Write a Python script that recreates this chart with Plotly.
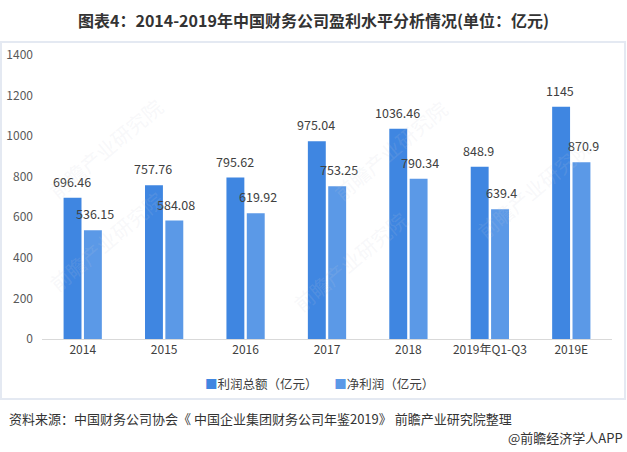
import plotly.graph_objects as go

categories = ['2014', '2015', '2016', '2017', '2018', '2019年Q1-Q3', '2019E']
total_profit = [696.46, 757.76, 795.62, 975.04, 1036.46, 848.9, 1145]
net_profit = [536.15, 584.08, 619.92, 753.25, 790.34, 639.4, 870.9]
total_labels = ['696.46', '757.76', '795.62', '975.04', '1036.46', '848.9', '1145']
net_labels = ['536.15', '584.08', '619.92', '753.25', '790.34', '639.4', '870.9']
series_names = ['利润总额（亿元）', '净利润（亿元）']
y_ticks = [0, 200, 400, 600, 800, 1000, 1200, 1400]

W, H = 627, 452
ML, MR, MT, MB = 42, 15, 55, 113
PW = W - ML - MR
PH = H - MT - MB


def px_x(x):
    return (x - ML) / PW


def px_y(y):
    return (H - MB - y) / PH


FONT = 'Noto Sans CJK SC'
DARK = '#3f86e1'
LIGHT = '#5b99e7'

fig = go.Figure()
fig.add_trace(go.Bar(x=categories, y=total_profit, name=series_names[0], showlegend=False,
                     marker=dict(color=DARK, line=dict(width=0))))
fig.add_trace(go.Bar(x=categories, y=net_profit, name=series_names[1], showlegend=False,
                     marker=dict(color=LIGHT, line=dict(width=0))))

# value labels above bars (category axis -> use serial index)
for i, (v, t) in enumerate(zip(total_profit, total_labels)):
    fig.add_annotation(x=i, y=v, text=t, showarrow=False, xshift=-11, yshift=5,
                       yanchor='bottom', font=dict(family=FONT, size=12.5, color='#404040'))
for i, (v, t) in enumerate(zip(net_profit, net_labels)):
    fig.add_annotation(x=i, y=v, text=t, showarrow=False, xshift=12, yshift=5,
                       yanchor='bottom', font=dict(family=FONT, size=12.5, color='#404040'))

# faint watermarks
for wx, wy in [(40, 90), (390, 150), (40, 300), (350, 320), (600, 130)]:
    fig.add_annotation(xref='paper', yref='paper', x=px_x(wx), y=px_y(wy),
                       text='前瞻产业研究院', showarrow=False, textangle=-40,
                       font=dict(family=FONT, size=20, color='rgba(200,205,215,0.15)'))

# legend drawn as text with coloured squares
fig.add_annotation(xref='paper', yref='paper', x=px_x(203), y=px_y(383), xanchor='left',
                   yanchor='middle', showarrow=False,
                   text=(f'<span style="color:{DARK}">■</span>{series_names[0]}'
                         f'      <span style="color:{LIGHT}">■</span>{series_names[1]}'),
                   font=dict(family=FONT, size=12.5, color='#404040'))

fig.add_annotation(xref='paper', yref='paper', x=px_x(W / 2), y=px_y(20), yanchor='middle',
                   text='<b>图表4：2014-2019年中国财务公司盈利水平分析情况(单位：亿元)</b>',
                   showarrow=False, font=dict(family=FONT, size=16, color='#333333'))
fig.add_annotation(xref='paper', yref='paper', x=px_x(7), y=px_y(418), xanchor='left',
                   yanchor='middle',
                   text='资料来源：中国财务公司协会《 中国企业集团财务公司年鉴2019》 前瞻产业研究院整理',
                   showarrow=False, font=dict(family=FONT, size=13, color='#333333'))
fig.add_annotation(xref='paper', yref='paper', x=px_x(625), y=px_y(438), xanchor='right',
                   yanchor='middle', text='@前瞻经济学人APP',
                   showarrow=False, font=dict(family=FONT, size=13, color='#333333'))

# frame around chart
fig.add_shape(type='rect', xref='paper', yref='paper',
              x0=px_x(1), x1=px_x(625), y0=px_y(399), y1=px_y(42),
              line=dict(color='#e4e9f2', width=2), layer='below')

fig.update_layout(
    width=W, height=H,
    margin=dict(l=ML, r=MR, t=MT, b=MB),
    paper_bgcolor='white', plot_bgcolor='white',
    barmode='group', bargap=0.5, bargroupgap=0.12,
    font=dict(family=FONT),
)
fig.update_xaxes(type='category', showline=True, linecolor='#d9d9d9', linewidth=1, ticks='',
                 automargin=False,
                 tickfont=dict(family=FONT, size=12, color='#404040'), showgrid=False)
fig.update_yaxes(range=[0, 1400], tickvals=y_ticks, showgrid=False, zeroline=False,
                 showline=False, ticklabelstandoff=8, automargin=False,
                 tickfont=dict(family=FONT, size=12, color='#595959'))

fig.write_html('out.html', config={'displayModeBar': False},
               post_script="document.body.style.margin='0';")
